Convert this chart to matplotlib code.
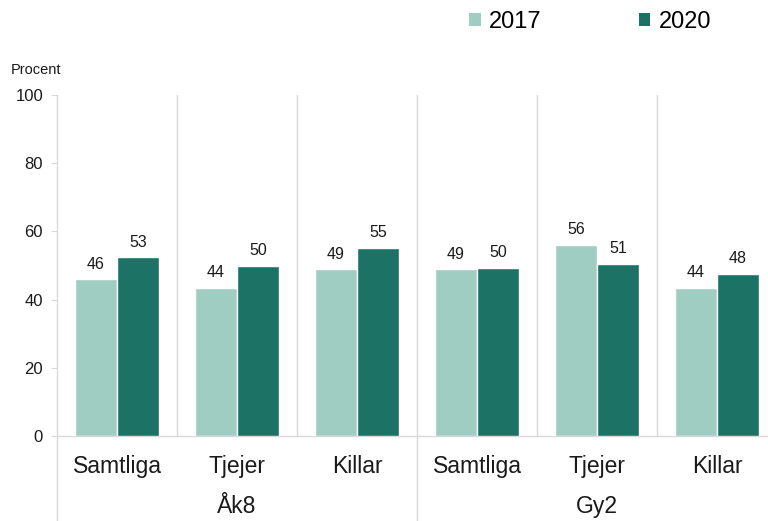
import matplotlib
matplotlib.use("Agg")
import matplotlib.pyplot as plt
from matplotlib.patches import Patch
from matplotlib.lines import Line2D
import numpy as np

plt.rcParams['font.family'] = ['Liberation Sans', 'DejaVu Sans']

categories = ["Samtliga", "Tjejer", "Killar", "Samtliga", "Tjejer", "Killar"]
groups = ["Åk8", "Gy2"]
series_names = ["2017", "2020"]
values_2017 = [45.9, 43.5, 48.9, 48.9, 56.1, 43.5]
values_2020 = [52.4, 49.9, 55.2, 49.3, 50.5, 47.6]
labels_2017 = ["46", "44", "49", "49", "56", "44"]
labels_2020 = ["53", "50", "55", "50", "51", "48"]
yticks = [0, 20, 40, 60, 80, 100]

c_light = "#9FCDC2"
c_dark = "#1C7265"
c_grid = "#D9D9D9"
c_text = "#1a1a1a"

fig = plt.figure(figsize=(7.68, 5.21), dpi=100)
ax = fig.add_axes([57/768, 85.3/521, 711/768, 340.4/521])
ax.set_xlim(-0.5, 5.425)
ax.set_ylim(0, 100)

x = np.arange(len(categories))
w = 0.35
b1 = ax.bar(x - w/2, values_2017, w, color=c_light, edgecolor="white", linewidth=1, zorder=3)
b2 = ax.bar(x + w/2, values_2020, w, color=c_dark, edgecolor="white", linewidth=1, zorder=3)

for bars, labs in ((b1, labels_2017), (b2, labels_2020)):
    for rect, lab in zip(bars, labs):
        ax.annotate(lab, (rect.get_x() + rect.get_width()/2, rect.get_height()),
                    xytext=(0, 5.5), textcoords="offset points",
                    ha="center", va="bottom", fontsize=11.5, color=c_text)

# spines
for s in ["top", "right", "left"]:
    ax.spines[s].set_visible(False)
ax.spines["bottom"].set_color(c_grid)
ax.spines["bottom"].set_linewidth(1)

ax.set_yticks(yticks)
ax.set_yticklabels([str(t) for t in yticks], fontsize=12, color=c_text)
ax.tick_params(axis="y", length=4, color=c_grid, pad=6)
ax.set_xticks([])

# category separators
for k in [0.5, 1.5, 3.5, 4.5]:
    ax.axvline(k, color=c_grid, linewidth=1, zorder=1)
# group separators extending to the bottom
ybot = -85.3/340.4
for k in [-0.5, 2.5]:
    ax.add_line(Line2D([k, k], [ybot, 1], transform=ax.get_xaxis_transform(),
                       color=c_grid, linewidth=1, clip_on=False, zorder=1))

tr = ax.get_xaxis_transform()
for xi, c in zip(x, categories):
    ax.text(xi, -31/340.4, c, transform=tr, ha="center", va="center",
            fontsize=16.5, color=c_text)
for gi, g in enumerate(groups):
    ax.text(1 + 3*gi, -71/340.4, g, transform=tr, ha="center", va="center",
            fontsize=16.5, color=c_text)

fig.text(11/768, 1 - 70/521, "Procent", ha="left", va="center", fontsize=10.5, color=c_text)

handles = [Patch(facecolor=c_light, edgecolor="none"), Patch(facecolor=c_dark, edgecolor="none")]
fig.legend(handles, series_names, loc="center left", bbox_to_anchor=(469/768, 1 - 22/521),
           ncol=2, frameon=False, fontsize=17, handlelength=0.5, handleheight=0.5,
           handletextpad=0.35, columnspacing=4.1, borderpad=0, borderaxespad=0)

fig.savefig("out.png", dpi=100)
